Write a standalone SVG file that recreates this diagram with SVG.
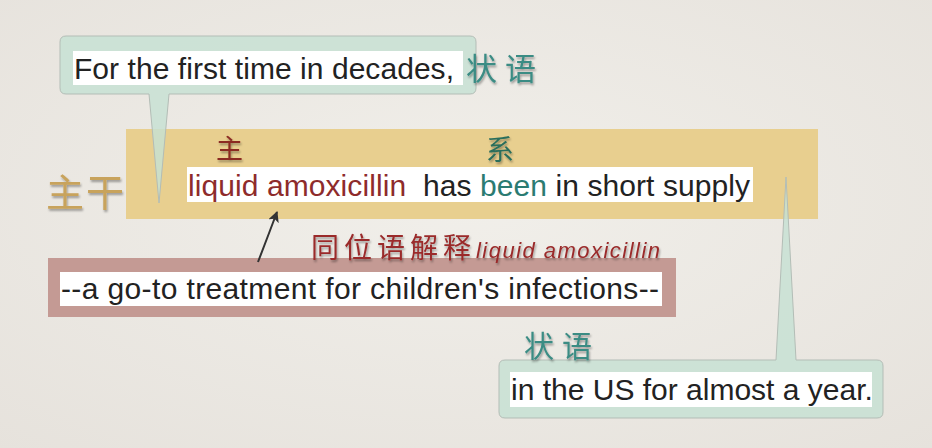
<svg xmlns="http://www.w3.org/2000/svg" width="932" height="448" viewBox="0 0 932 448">
  <defs>
    <radialGradient id="paper" cx="50%" cy="45%" r="75%">
      <stop offset="0" stop-color="#f1efea"/>
      <stop offset="1" stop-color="#e6e2dc"/>
    </radialGradient>
    <filter id="shadow" x="-20%" y="-20%" width="150%" height="160%">
      <feDropShadow dx="1" dy="2" stdDeviation="1.2" flood-color="#000" flood-opacity="0.35"/>
    </filter>
    <marker id="arrowhead" viewBox="0 0 10 10" refX="9" refY="5" markerWidth="11" markerHeight="11" markerUnits="userSpaceOnUse" orient="auto">
      <path d="M0,0 L10,5 L0,10 L2.5,5 Z" fill="#333"/>
    </marker>
    <style>
      .sent { font-family: "Liberation Sans", Arial, sans-serif; font-size: 30px; fill: #222; }
      .hl { fill: #ffffff; }
      .callout { fill: #c6e0d3; fill-opacity: 0.82; stroke: #b3bdb6; stroke-width: 1; }
      .cjk { font-family: "Noto Sans CJK SC", "Noto Sans", sans-serif; filter: url(#shadow); }
      .subj { fill: #8e2b2b; }
      .verb { fill: #2b7b72; }
    </style>
  </defs>

  <rect width="932" height="448" fill="url(#paper)"/>

  <g id="main-clause">
    <rect x="126" y="129" width="692" height="90" fill="#e8cf8f"/>
    <rect class="hl" x="187" y="167" width="566" height="35"/>
    <text class="sent" x="188" y="196" textLength="562" lengthAdjust="spacing"><tspan class="subj">liquid amoxicillin</tspan><tspan xml:space="preserve">  has </tspan><tspan class="verb">been</tspan><tspan> in short supply</tspan></text>
    <text class="cjk" x="46" y="206" font-size="38" letter-spacing="2" fill="#c8a35c">主干</text>
    <text class="cjk" x="216" y="159" font-size="27" fill="#8b2a22">主</text>
    <text class="cjk" x="486" y="160" font-size="28" fill="#2b6e5c">系</text>
  </g>

  <g id="adverbial-top">
    <path class="callout" d="M66,36 H470 Q476,36 476,42 V88 Q476,94 470,94 H169 L159,203 L149,94 H66 Q60,94 60,88 V42 Q60,36 66,36 Z"/>
    <rect class="hl" x="73" y="51" width="390" height="34"/>
    <text class="sent" x="74" y="79" textLength="380" lengthAdjust="spacing">For the first time in decades,</text>
    <text class="cjk" x="466" y="80" font-size="31" letter-spacing="8" fill="#3b8c84">状语</text>
  </g>

  <g id="appositive">
    <rect x="48" y="258" width="628" height="59" fill="#c49a94"/>
    <rect class="hl" x="60" y="272" width="602" height="34"/>
    <text class="sent" x="61" y="299" textLength="598" lengthAdjust="spacing">--a go-to treatment for children's infections--</text>
    <text x="311" y="258" fill="#9a2a2a" filter="url(#shadow)"><tspan font-family="Noto Sans CJK SC, sans-serif" font-size="28" letter-spacing="5">同位语解释</tspan><tspan font-family="Liberation Sans, sans-serif" font-style="italic" font-size="22" textLength="184" lengthAdjust="spacing">liquid amoxicillin</tspan></text>
  </g>

  <g id="adverbial-bottom">
    <path class="callout" d="M505,360 H776 L786,177 L796,360 H877 Q883,360 883,366 V412 Q883,418 877,418 H505 Q499,418 499,412 V366 Q499,360 505,360 Z"/>
    <rect class="hl" x="510" y="372" width="362" height="35"/>
    <text class="sent" x="511" y="400">in the US for almost a year.</text>
    <text class="cjk" x="524" y="357" font-size="30" letter-spacing="8" fill="#3b8c84">状语</text>
  </g>

  <g id="connectors">
    <path d="M258,262 Q268,236 277,212" fill="none" stroke="#333" stroke-width="2" marker-end="url(#arrowhead)"/>
  </g>
</svg>
